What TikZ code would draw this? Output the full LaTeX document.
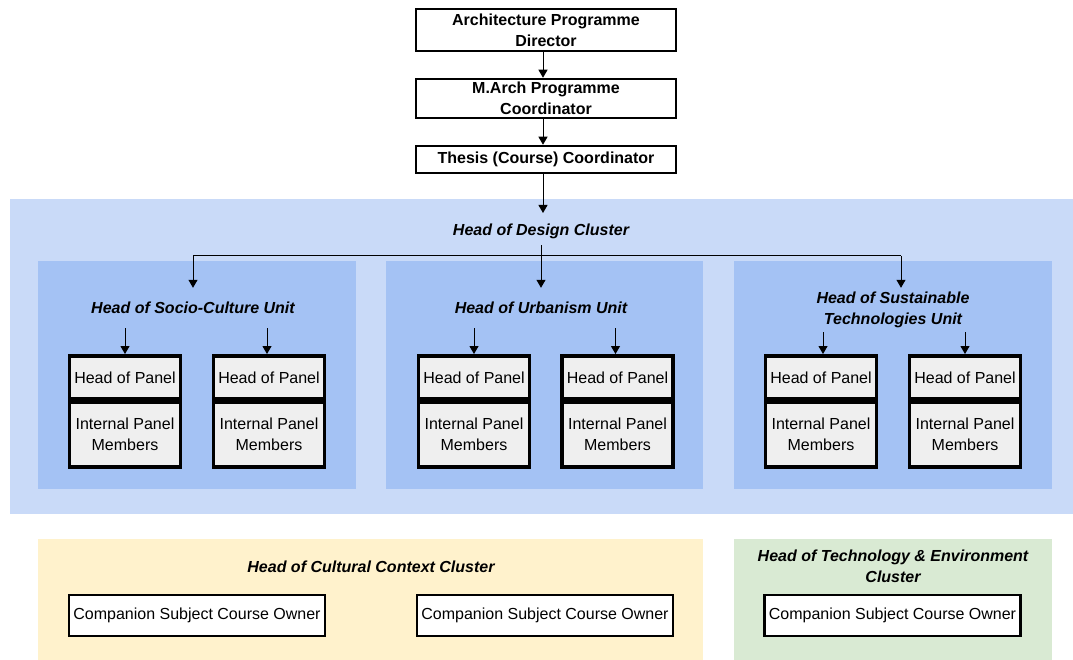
\documentclass[tikz,border=0pt]{standalone}
\usepackage{fontspec}
\setmainfont{Liberation Sans}
\usetikzlibrary{arrows.meta}
\definecolor{lblue}{HTML}{C9DAF8}
\definecolor{mblue}{HTML}{A4C2F4}
\definecolor{pgray}{HTML}{EFEFEF}
\definecolor{lyellow}{HTML}{FFF2CC}
\definecolor{lgreen}{HTML}{D9EAD3}
\tikzset{
  arr/.style={draw, line width=1pt, -{Triangle[length=8pt,width=9pt]}},
  conn/.style={draw, line width=1pt},
  topbox/.style={draw, line width=2.5pt, fill=white, minimum width=260pt, align=center, inner sep=0pt,
    font=\fontsize{16}{21}\selectfont\bfseries},
  heading/.style={align=center, inner sep=0pt, font=\fontsize{16}{21}\selectfont\bfseries\itshape},
  panelhead/.style={draw, line width=3.5pt, fill=pgray, minimum width=111pt, minimum height=43.25pt, inner sep=0pt,
    font=\fontsize{16}{21}\selectfont},
  panelbody/.style={draw, line width=3.5pt, fill=pgray, minimum width=111pt, minimum height=64.25pt, inner sep=0pt,
    align=center, font=\fontsize{16}{21}\selectfont},
  compbox/.style={draw, line width=2.5pt, fill=white, minimum width=256pt, minimum height=41pt, inner sep=0pt,
    font=\fontsize{16}{21}\selectfont},
}
\newcommand\panelpair[2]{%
  \node[panelhead] (#1h) at (#2,377.4) {Head of Panel};
  \node[panelbody, anchor=north] (#1b) at (#1h.south) {Internal Panel\\Members};
}
\begin{document}
\begin{tikzpicture}[x=1pt,y=-1pt]
\useasboundingbox (0,0) rectangle (1073,660);
% backgrounds
\fill[lblue] (10,199) rectangle (1073,514);
\fill[mblue] (38,261) rectangle (356,489);
\fill[mblue] (386,261) rectangle (703,489);
\fill[mblue] (734,261) rectangle (1052,489);
\fill[lyellow] (38,539) rectangle (703,660);
\fill[lgreen] (734,539) rectangle (1052,660);

% top chain
\node[topbox, minimum height=42pt] (dir) at (546,30) {Architecture Programme\\Director};
\node[topbox, minimum height=39pt] (march) at (546,98.5) {M.Arch Programme\\Coordinator};
\node[topbox, minimum height=27pt] (thesis) at (546,159.5) {Thesis (Course) Coordinator};
\coordinate (cx) at (543,0);
\coordinate (designin) at (543,213);
\draw[arr] (dir.south -| cx) -- (march.north -| cx);
\draw[arr] (march.south -| cx) -- (thesis.north -| cx);
\draw[arr] (thesis.south -| cx) -- (designin);

% design cluster
\node[heading, minimum height=28pt] (design) at (541,231) {Head of Design Cluster};
\node[heading, minimum height=40pt] (socio) at (193,308) {Head of Socio-Culture Unit};
\node[heading, minimum height=40pt] (urban) at (541,308) {Head of Urbanism Unit};
\node[heading, minimum height=44pt] (sust) at (893,310) {Head of Sustainable\\Technologies Unit};
\coordinate (jl) at (193,256);
\coordinate (jr) at (901,256);
\draw[conn] (jl) -- (jr);
\draw[arr] (jl) -- (socio.north);
\draw[arr] (design.south) -- (urban.north);
\draw[arr] (jr) -- (jr |- sust.north);

% panels
\panelpair{sa}{125}
\panelpair{sb}{269}
\panelpair{ua}{474}
\panelpair{ub}{617.5}
\panelpair{ta}{821}
\panelpair{tb}{965}
\draw[arr] (sah.north |- socio.south) -- (sah.north);
\draw[arr] ([xshift=-2pt]sbh.north |- socio.south) -- ([xshift=-2pt]sbh.north);
\draw[arr] (uah.north |- urban.south) -- (uah.north);
\draw[arr] ([xshift=-2pt]ubh.north |- urban.south) -- ([xshift=-2pt]ubh.north);
\draw[arr] ([xshift=2pt]tah.north |- sust.south) -- ([xshift=2pt]tah.north);
\draw[arr] (tbh.north |- sust.south) -- (tbh.north);

% bottom clusters
\node[heading] (cult) at (371,567) {Head of Cultural Context Cluster};
\node[compbox] (c1) at (197,615.5) {Companion Subject Course Owner};
\node[compbox] (c2) at (545,615.5) {Companion Subject Course Owner};
\node[heading] (tech) at (893,566.5) {Head of Technology \& Environment\\Cluster};
\node[compbox] (c3) at (892.5,615.5) {Companion Subject Course Owner};
\end{tikzpicture}
\end{document}
